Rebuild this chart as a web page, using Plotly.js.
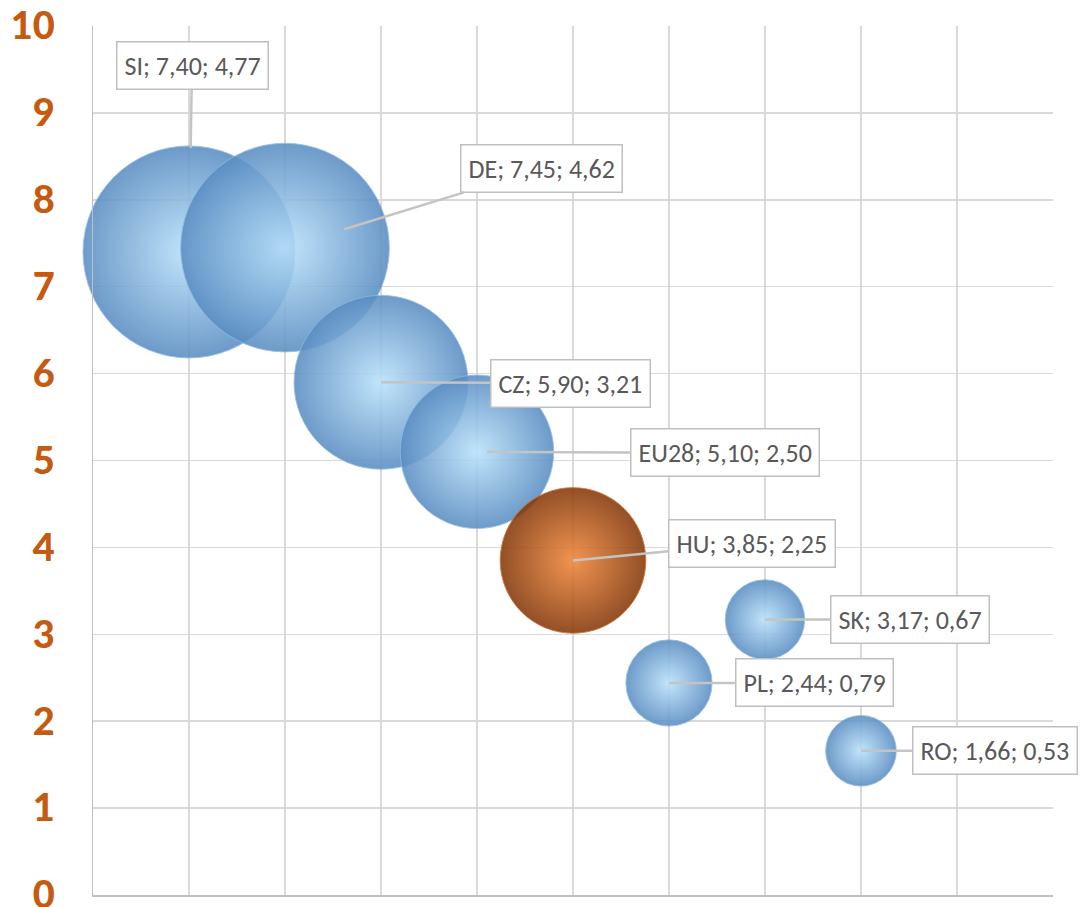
<!DOCTYPE html>
<html>
<head>
<meta charset="utf-8">
<script src="https://cdn.plot.ly/plotly-3.0.1.min.js"></script>
<style>
  html, body { margin: 0; padding: 0; background: #ffffff; }
  #chart { width: 1081px; height: 907px; }
</style>
</head>
<body>
<div id="chart"></div>
<script>
// ---- data ----
const names  = ['SI', 'DE', 'CZ', 'EU28', 'HU', 'PL', 'SK', 'RO'];
const xPos   = [1, 2, 3, 4, 5, 6, 7, 8];
const yVals  = [7.40, 7.45, 5.90, 5.10, 3.85, 2.44, 3.17, 1.66];
const sizes  = [4.77, 4.62, 3.21, 2.50, 2.25, 0.79, 0.67, 0.53];
const highlight = 'HU';

// label box placement (pixel offsets from bubble centre) - styling only
const labelAX = [3, 256, 189, 248, 179, 145, 145, 134];
const labelAY = [-186, -79, 1, 1, -17, 0, 0, 0];
const labelStandoff = [104, 62, 0, 10, 0, 0, 0, 0];

const fmt = v => v.toFixed(2).replace('.', ',');

const edgeColors = names.map(n => n === highlight ? '#85380a' : '#5a8dc2');
const centerColors = names.map(n => n === highlight ? '#f08638' : '#b9e2fb');
const rimColors = names.map(n => n === highlight ? 'rgba(200,100,30,0.9)' : 'rgba(140,185,228,0.9)');

const maxDiameterPx = 212;

const trace = {
  type: 'scatter',
  mode: 'markers',
  x: xPos,
  y: yVals,
  text: names,
  cliponaxis: false,
  hoverinfo: 'skip',
  marker: {
    size: sizes,
    sizemode: 'area',
    sizeref: 2 * Math.max(...sizes) / (maxDiameterPx * maxDiameterPx),
    color: edgeColors,
    opacity: 0.88,
    gradient: { type: 'radial', color: centerColors },
    line: { width: 1, color: rimColors }
  }
};

const annotations = names.map((n, i) => ({
  x: xPos[i],
  y: yVals[i],
  xref: 'x',
  yref: 'y',
  text: n + '; ' + fmt(yVals[i]) + '; ' + fmt(sizes[i]),
  showarrow: true,
  arrowhead: 0,
  arrowwidth: 2.5,
  arrowcolor: '#c4c4c4',
  standoff: labelStandoff[i],
  ax: labelAX[i],
  ay: labelAY[i],
  bgcolor: '#ffffff',
  bordercolor: '#bfbfbf',
  borderwidth: 1.5,
  borderpad: 7,
  font: { family: 'Carlito, Calibri, Lato, sans-serif', size: 26, color: '#595959' }
}));

const layout = {
  width: 1081,
  height: 907,
  margin: { l: 93, r: 28, t: 26, b: 12 },
  paper_bgcolor: '#ffffff',
  plot_bgcolor: '#ffffff',
  showlegend: false,
  xaxis: {
    range: [0, 10],
    dtick: 1,
    tick0: 0,
    showticklabels: false,
    showgrid: true,
    gridcolor: '#d9d9d9',
    gridwidth: 1.5,
    zeroline: false,
    showline: true,
    linecolor: '#bfbfbf',
    linewidth: 1.5,
    ticks: ''
  },
  yaxis: {
    range: [0, 10],
    dtick: 1,
    tick0: 0,
    showgrid: true,
    gridcolor: '#d9d9d9',
    gridwidth: 1.5,
    zeroline: false,
    showline: true,
    linecolor: '#bfbfbf',
    linewidth: 1.5,
    ticks: 'outside',
    ticklen: 29,
    tickcolor: 'rgba(0,0,0,0)',
    ticklabeloverflow: 'allow',
    tickfont: { family: 'Lato, sans-serif', size: 38, color: '#c55a11', weight: 900 }
  },
  annotations: annotations
};

Plotly.newPlot('chart', [trace], layout, { displayModeBar: false, staticPlot: true });
</script>
</body>
</html>
